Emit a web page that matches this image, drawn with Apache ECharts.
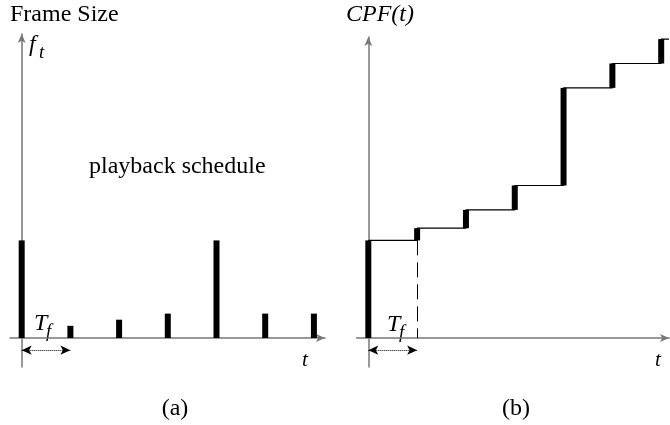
<!DOCTYPE html>
<html><head><meta charset="utf-8">
<script src="https://cdn.jsdelivr.net/npm/echarts@6/dist/echarts.min.js"></script>
<style>html,body{margin:0;padding:0;background:#fff}#c{width:670px;height:425px}</style>
</head><body><div id="c"></div>
<script>
// ---- data ----
const frameTimes = [0, 1, 2, 3, 4, 5, 6];          // frame index (multiples of T_f)
const frameSizes = [8, 1, 1.5, 2, 8, 2, 2];        // frame sizes f_t
const tfSpan = [0, 1];                              // one frame period T_f
const tfArrowLevel = -1;                            // arrow drawn just under the time axis
const xRangeA = [-0.24, 6.228];
const xRangeB = [-0.238, 6.16];
const yRangeA = [-2.377, 24.92];
const yRangeB = [-2.377, 24.67];

// cumulative playback frame sizes CPF(t)
const cpf = [];
let acc = 0;
frameSizes.forEach(v => { acc += v; cpf.push(acc); });
const cpfPrev = cpf.map((c, i) => c - frameSizes[i]);

const AX = '#777777';
const SERIF = "'Liberation Serif','DejaVu Serif',serif";

function xAxis(gi, r) {
  return { type: 'value', gridIndex: gi, min: r[0], max: r[1],
    axisLine: { show: true, onZero: true, symbol: ['none', 'arrow'], symbolSize: [6, 9],
      lineStyle: { color: AX, width: 1.5 } },
    axisTick: { show: false }, axisLabel: { show: false }, splitLine: { show: false } };
}
function yAxis(gi, r) {
  return { type: 'value', gridIndex: gi, min: r[0], max: r[1],
    axisLine: { show: true, onZero: true, symbol: ['none', 'arrow'], symbolSize: [6, 9],
      lineStyle: { color: AX, width: 1.5 } },
    axisTick: { show: false }, axisLabel: { show: false }, splitLine: { show: false } };
}
function txt(x, baseline, text, size, italic, align) {
  return { type: 'text', silent: true, style: {
    x: x, y: baseline - 0.34 * size, text: text,
    font: (italic ? 'italic ' : '') + size + 'px ' + SERIF,
    fill: '#000', textAlign: align || 'left', textVerticalAlign: 'middle', verticalAlign: 'middle' } };
}
function segRender(params, api) {
  const x = api.value(0);
  const p0 = api.coord([x, api.value(1)]);
  const p1 = api.coord([x, api.value(2)]);
  return { type: 'rect', shape: { x: p0[0] - 3, y: p1[1], width: 6, height: p0[1] - p1[1] },
           style: { fill: '#000' } };
}

const chart = echarts.init(document.getElementById('c'), null, { renderer: 'canvas' });
chart.setOption({
  animation: false,
  backgroundColor: '#fff',
  grid: [
    { left: 10, top: 34, width: 315, height: 333 },
    { left: 356.7, top: 37, width: 312.3, height: 330 }
  ],
  xAxis: [xAxis(0, xRangeA), xAxis(1, xRangeB)],
  yAxis: [yAxis(0, yRangeA), yAxis(1, yRangeB)],
  series: [
    { type: 'bar', xAxisIndex: 0, yAxisIndex: 0, barWidth: 6,
      data: frameTimes.map((t, i) => [t, frameSizes[i]]),
      itemStyle: { color: '#000' },
      markLine: { silent: true, animation: false, symbolSize: [7, 10],
        label: { show: false },
        lineStyle: { color: '#000', width: 1, type: 'dotted' },
        data: [[{ coord: [tfSpan[0], tfArrowLevel], symbol: 'arrow' },
                { coord: [tfSpan[1], tfArrowLevel], symbol: 'arrow' }]] } },
    { type: 'line', xAxisIndex: 1, yAxisIndex: 1, step: 'end', symbol: 'none',
      data: frameTimes.map((t, i) => [t, cpf[i]]).concat([[xRangeB[1], cpf[cpf.length - 1]]]),
      lineStyle: { color: '#000', width: 1.2 },
      markLine: { silent: true, animation: false, symbolSize: [7, 10],
        label: { show: false },
        data: [
          [{ coord: [tfSpan[1], cpf[0]], symbol: 'none', lineStyle: { type: [15, 7], color: '#000', width: 1 } },
           { coord: [tfSpan[1], 0], symbol: 'none' }],
          [{ coord: [tfSpan[0], tfArrowLevel], symbol: 'arrow', lineStyle: { type: 'dotted', color: '#000', width: 1 } },
           { coord: [tfSpan[1], tfArrowLevel], symbol: 'arrow' }]
        ] } },
    { type: 'custom', xAxisIndex: 1, yAxisIndex: 1, renderItem: segRender,
      encode: { x: 0, y: [1, 2] },
      data: frameTimes.map((t, i) => [t, cpfPrev[i], cpf[i]]) }
  ],
  graphic: [
    txt(10, 22.7, 'Frame Size', 24, false),
    txt(29, 53, 'f', 24, true),
    txt(39, 59, 't', 19, true),
    txt(89, 175, 'playback schedule', 24, false),
    txt(34, 332, 'T', 24, true),
    txt(46, 338.5, 'f', 19, true),
    txt(302, 368, 't', 21, true),
    txt(175, 416.7, '(a)', 24, false, 'center'),
    txt(346, 22.7, 'CPF(t)', 24, true),
    txt(387, 333, 'T', 24, true),
    txt(399, 339.5, 'f', 19, true),
    txt(655, 368, 't', 21, true),
    txt(516, 416.7, '(b)', 24, false, 'center')
  ]
});
</script></body></html>
